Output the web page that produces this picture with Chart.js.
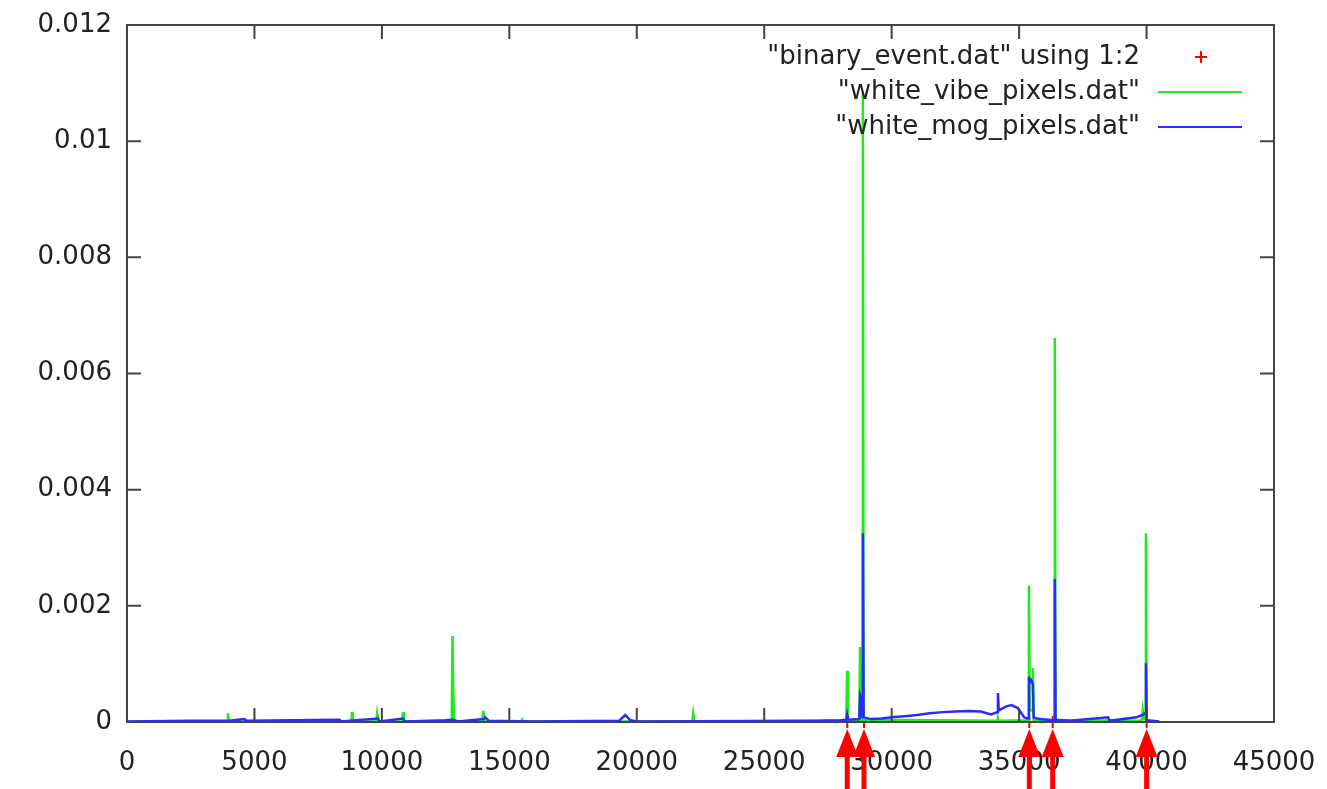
<!DOCTYPE html>
<html>
<head>
<meta charset="utf-8">
<script src="https://cdn.jsdelivr.net/npm/chart.js@4"></script>
<style>
    html, body { margin: 0; padding: 0; background: #ffffff; }
    #wrap { width: 1327px; height: 789px; }
</style>
</head>
<body>
<div id="wrap"><canvas id="eventChart" width="1327" height="789"></canvas></div>
<script>
// frame numbers where a binary event happened
const eventX = [28257, 28914, 35400, 36317, 40003];

// "white_vibe_pixels.dat"
const vibeX = [0, 1500, 3930, 3960, 3990, 8800, 8830, 8860, 9780, 9810, 9840, 10800, 10830, 10860,
    12740, 12770, 12800, 12830, 13940, 13970, 14000, 15470, 15500, 15530, 22180, 22210, 22240,
    28220, 28250, 28280, 28730, 28760, 28800, 28840, 28870, 28900, 34140, 34170, 34200,
    35350, 35385, 35420, 35510, 35540, 35570, 36370, 36400, 36430,
    39820, 39850, 39900, 39945, 39976, 40005, 40500];
const vibeY = [0, 0.00001, 0.00001, 0.00015, 0.00001, 0.00001, 0.00017, 0.00001, 0.00001, 0.00013, 0.00001, 0.00001, 0.00017, 0.00001,
    0.00001, 0.00148, 0.00058, 0.00001, 0.00001, 0.00019, 0.00001, 0.00001, 0.00004, 0.00001, 0.00001, 0.00013, 0.00001,
    0.00002, 0.00088, 0.00002, 0.00003, 0.00129, 0.00003, 0.00004, 0.01083, 0.00004, 0.00002, 0.00006, 0.00002,
    0.00003, 0.00235, 0.0002, 0.0002, 0.00093, 0.00003, 0.00003, 0.00661, 0.00003,
    0.00002, 0.0002, 0.00005, 0.00005, 0.00325, 0.00002, 0.00001];

// "white_mog_pixels.dat"
const mogX = [0, 2500, 4000, 4600, 4700, 8340, 8400, 9850, 9900, 10830, 10900, 12500, 12800, 13000,
    14000, 14050, 14200, 16000, 19300, 19550, 19750, 20000, 27000, 28000,
    28220, 28250, 28280, 28730, 28760, 28800, 28840, 28870, 28900,
    29200, 29600, 30000, 30500, 31000, 31500, 32000, 32500, 33000, 33500, 33900,
    34140, 34170, 34200, 34500, 34700, 34950, 35200, 35350, 35385, 35420, 35480, 35540, 35570, 35800,
    36370, 36400, 36430, 37000, 38490, 38550, 39600, 39820, 39945, 39976, 40005, 40500];
const mogY = [0.00001, 0.00002, 0.00002, 0.00005, 0.00002, 0.00004, 0.00001, 0.00006, 0.00001, 0.00006, 0.00001, 0.00003, 0.00004, 0.00001,
    0.00005, 0.00008, 0.00002, 0.00001, 0.00002, 0.00012, 0.00003, 0.00001, 0.00002, 0.00003,
    0.00004, 0.00012, 0.00004, 0.00005, 0.00046, 0.0004, 0.00008, 0.00325, 0.00008,
    0.00005, 0.00006, 0.00008, 0.0001, 0.00012, 0.00015, 0.00017, 0.00018, 0.00019, 0.00018, 0.00013,
    0.00017, 0.0005, 0.0002, 0.00027, 0.00029, 0.00024, 0.00008, 0.00006, 0.00078, 0.00068, 0.00072, 0.00065, 0.00008, 0.00005,
    0.00003, 0.00246, 0.00004, 0.00002, 0.00008, 0.00002, 0.00008, 0.00012, 0.00015, 0.00101, 0.00003, 0.00001];

const legendLabels = ['"binary_event.dat" using 1:2', '"white_vibe_pixels.dat"', '"white_mog_pixels.dat"'];
const xTicks = [0, 5000, 10000, 15000, 20000, 25000, 30000, 35000, 40000, 45000];
const yTicks = [0, 0.002, 0.004, 0.006, 0.008, 0.01, 0.012];

const RED = '#ff0000';
const GREEN = '#22e822';
const BLUE = '#2a2aff';
const FONT = '26px "DejaVu Sans", sans-serif';

function toPoints(xs, ys) {
    return xs.map((x, i) => ({ x: x, y: ys[i] }));
}

// gnuplot style frame: full box with inward ticks on all four sides
const framePlugin = {
    id: 'frame',
    afterDatasetsDraw(chart) {
        const { ctx, chartArea: a, scales } = chart;
        ctx.save();
        ctx.strokeStyle = '#444444';
        ctx.lineWidth = 2;
        ctx.strokeRect(a.left, a.top, a.right - a.left, a.bottom - a.top);
        ctx.beginPath();
        xTicks.forEach((v) => {
            const px = scales.x.getPixelForValue(v);
            ctx.moveTo(px, a.bottom); ctx.lineTo(px, a.bottom - 14);
            ctx.moveTo(px, a.top); ctx.lineTo(px, a.top + 14);
        });
        yTicks.forEach((v) => {
            const py = scales.y.getPixelForValue(v);
            ctx.moveTo(a.left, py); ctx.lineTo(a.left + 14, py);
            ctx.moveTo(a.right, py); ctx.lineTo(a.right - 14, py);
        });
        ctx.stroke();
        ctx.restore();
    },
    afterDraw(chart) {
        const { ctx, chartArea: a, scales } = chart;
        ctx.save();
        // event arrows under the x axis
        ctx.fillStyle = RED;
        eventX.forEach((v) => {
            const px = scales.x.getPixelForValue(v);
            ctx.fillRect(px - 2.5, a.bottom + 30, 5, 80);
            ctx.beginPath();
            ctx.moveTo(px, a.bottom + 7);
            ctx.lineTo(px - 11, a.bottom + 35);
            ctx.lineTo(px + 11, a.bottom + 35);
            ctx.closePath();
            ctx.fill();
        });

        // key, top right, text right aligned before the sample
        ctx.font = FONT;
        ctx.fillStyle = '#222222';
        ctx.textAlign = 'right';
        ctx.textBaseline = 'middle';
        const textRight = 1140;
        const rows = [57, 92, 127];
        legendLabels.forEach((t, i) => {
            ctx.fillText(t, textRight, rows[i]);
        });
        ctx.strokeStyle = RED;
        ctx.lineWidth = 2;
        ctx.beginPath();
        ctx.moveTo(1195, rows[0]); ctx.lineTo(1207, rows[0]);
        ctx.moveTo(1201, rows[0] - 6); ctx.lineTo(1201, rows[0] + 6);
        ctx.stroke();
        ctx.strokeStyle = GREEN;
        ctx.beginPath();
        ctx.moveTo(1158, rows[1]); ctx.lineTo(1242, rows[1]);
        ctx.stroke();
        ctx.strokeStyle = BLUE;
        ctx.beginPath();
        ctx.moveTo(1158, rows[2]); ctx.lineTo(1242, rows[2]);
        ctx.stroke();
        ctx.restore();
    },
};

const ctx = document.getElementById('eventChart').getContext('2d');

new Chart(ctx, {
    type: 'line',
    data: {
        datasets: [
            {
                label: legendLabels[2],
                data: toPoints(mogX, mogY),
                borderColor: BLUE,
                borderWidth: 2.5,
                pointRadius: 0,
                tension: 0,
                order: 0,
            },
            {
                label: legendLabels[1],
                data: toPoints(vibeX, vibeY),
                borderColor: GREEN,
                borderWidth: 2.5,
                pointRadius: 0,
                tension: 0,
                order: 1,
            },
            {
                label: legendLabels[0],
                data: eventX.map((x) => ({ x: x, y: 0 })),
                showLine: false,
                pointStyle: 'cross',
                pointRadius: 6,
                borderColor: RED,
                borderWidth: 2,
                clip: false,
                order: 2,
            },
        ],
    },
    options: {
        responsive: false,
        animation: false,
        devicePixelRatio: 1,
        layout: {
            padding: { top: 25, right: 53, bottom: 0, left: 0 },
        },
        plugins: {
            legend: { display: false },
            tooltip: { enabled: false },
        },
        scales: {
            x: {
                type: 'linear',
                min: 0,
                max: 45000,
                grid: { display: false },
                border: { display: false },
                afterBuildTicks(scale) {
                    scale.ticks = xTicks.map((v) => ({ value: v }));
                },
                afterFit(scale) {
                    scale.height = 67;
                    // let the last label hang past the frame like gnuplot does
                    scale.paddingLeft = 0;
                    scale.paddingRight = 0;
                },
                ticks: {
                    color: '#222222',
                    padding: 18,
                    maxRotation: 0,
                    font: { family: '"DejaVu Sans", sans-serif', size: 26 },
                    callback(value) {
                        return String(value);
                    },
                },
            },
            y: {
                type: 'linear',
                min: 0,
                max: 0.012,
                grid: { display: false },
                border: { display: false },
                afterBuildTicks(scale) {
                    scale.ticks = yTicks.map((v) => ({ value: v }));
                },
                afterFit(scale) {
                    scale.width = 127;
                },
                ticks: {
                    color: '#222222',
                    padding: 7,
                    font: { family: '"DejaVu Sans", sans-serif', size: 26 },
                    callback(value) {
                        return String(Number(value.toFixed(3)));
                    },
                },
            },
        },
    },
    plugins: [framePlugin],
});
</script>
</body>
</html>
